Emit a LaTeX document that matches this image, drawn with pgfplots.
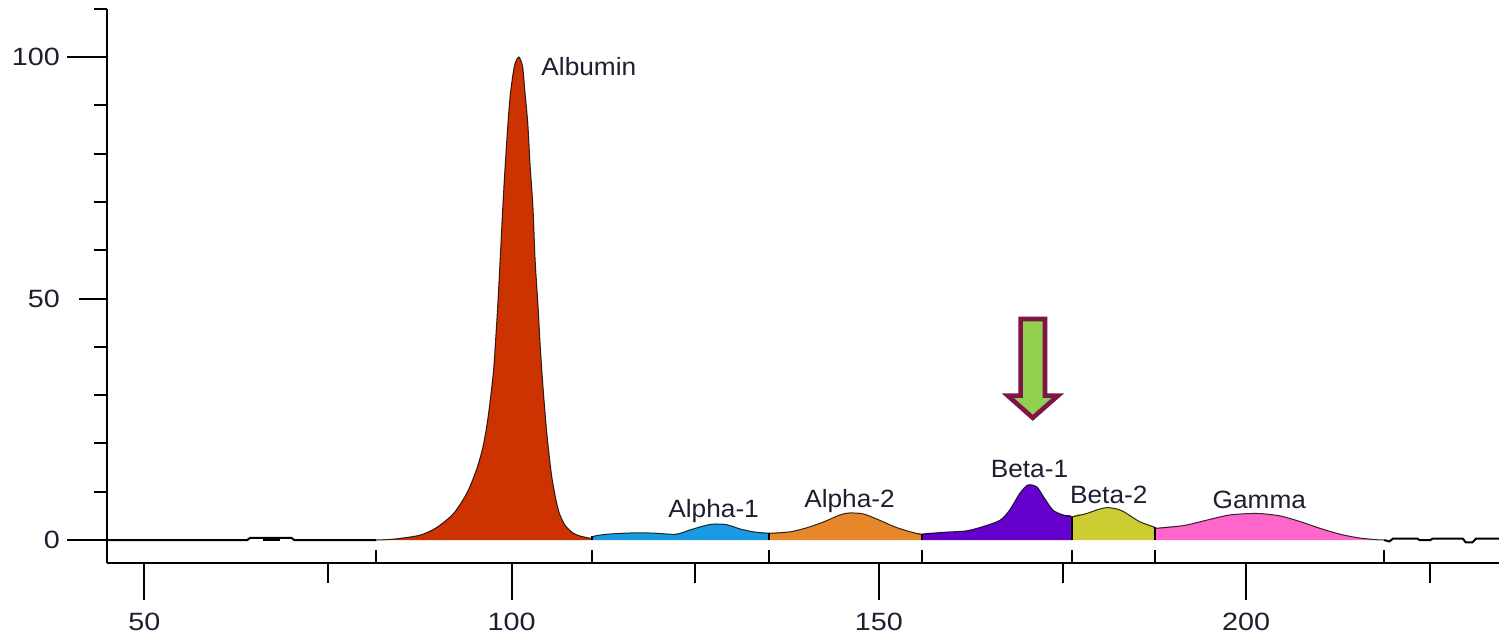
\documentclass[border=0pt]{standalone}
\usepackage{fontspec}
\setmainfont{Liberation Sans}[FakeStretch=1.05]
\newfontfamily\tickfont{Liberation Sans}[FakeStretch=1.15]
\usepackage{pgfplots}
\pgfplotsset{compat=1.18}

\definecolor{albumin}{HTML}{CC3300}
\definecolor{alphaone}{HTML}{1A9AE2}
\definecolor{alphatwo}{HTML}{E8872A}
\definecolor{betaone}{HTML}{6600CC}
\definecolor{betatwo}{HTML}{CCCC33}
\definecolor{gammacol}{HTML}{FF66CC}
\definecolor{arrowfill}{HTML}{92D050}
\definecolor{arrowedge}{HTML}{7F1448}
\definecolor{ink}{HTML}{1E1E30}

\tikzset{peaklabel/.style={font=\fontsize{12.5}{15}\selectfont, text=ink, anchor=base, inner sep=0pt}}

\begin{document}
\begin{tikzpicture}
\pgfplotsset{
  base/.style={
    scale only axis, width=696pt, height=277.15pt,
    xmin=44.91, xmax=234.43, ymin=-4.76, ymax=110,
    axis line style={-, line width=1pt, black},
    every tick/.style={black, line width=1pt},
    every non boxed x axis/.append style={xtick align=outside, x axis line style={-}},
    every non boxed y axis/.append style={ytick align=outside, y axis line style={-}},
    tick align=outside,
    ticklabel style={font=\tickfont\fontsize{12.5}{15}\selectfont, text=ink},
    xticklabel style={yshift=-3pt},
    /pgf/number format/assume math mode=true,
  },
  trace/.style={smooth, tension=0.45},
}
% horizontal axis with its ticks and the fraction boundary marks
\begin{axis}[base, axis x line=bottom, axis y line=none,
  xtick={50,100,150,200}, minor xtick={75,125,175,225},
  major tick length=18.5pt, minor tick length=10pt, ytick=\empty]
  \addplot[black, line width=1pt] coordinates {(81.6,-2.07) (81.6,-4.76)};
  \addplot[black, line width=1pt] coordinates {(111.0,-2.07) (111.0,-4.76)};
  \addplot[black, line width=1pt] coordinates {(135.1,-2.07) (135.1,-4.76)};
  \addplot[black, line width=1pt] coordinates {(155.9,-2.07) (155.9,-4.76)};
  \addplot[black, line width=1pt] coordinates {(176.3,-2.07) (176.3,-4.76)};
  \addplot[black, line width=1pt] coordinates {(187.6,-2.07) (187.6,-4.76)};
  \addplot[black, line width=1pt] coordinates {(218.8,-2.07) (218.8,-4.76)};
\end{axis}
% the shorter tick at 50 on the vertical axis
\begin{axis}[base, axis y line=left, axis x line=none,
  ytick={50}, major tick length=14pt, yticklabel style={xshift=-6pt}, xtick=\empty]
\end{axis}
% vertical axis and the electrophoresis trace
\begin{axis}[base, axis y line=left, axis x line=none,
  ytick={0,100}, minor ytick={10,20,30,40,60,70,80,90,110},
  major tick length=20pt, minor tick length=6.5pt, xtick=\empty]
  \coordinate (SW) at (rel axis cs:0,0);
  \coordinate (NE) at (rel axis cs:1,1);
  % Albumin
  \addplot[fill=albumin, draw=none, trace] coordinates {
    (81.6,0) (84,0.2) (87.5,1.0) (89.8,2.6) (92.1,5.5) (93.9,9.7) (95.2,14.5)
    (96.1,19.3) (96.8,25.5) (97.5,34.5) (97.8,41) (98.1,48.3)
    (98.4,57) (98.8,69.0) (99.1,77) (99.5,86.3) (99.8,92) (100.2,96.6) (100.5,98.8)
    (101.0,100) (101.5,98) (101.8,93) (102.2,86.3) (102.5,78) (102.9,69) (103.2,58)
    (103.6,48.3) (103.9,40) (104.3,31.1) (104.8,22) (105.4,13.8) (106,8.6) (106.5,5.5)
    (107,3.8) (107.4,2.8) (108.4,1.4) (109.4,0.8) (110.6,0.4) (111.0,0.3) (111.0,0)} -- cycle;
  % Alpha-1
  \addplot[fill=alphaone, draw=none, trace] coordinates {
    (111.0,0) (111.0,0.3) (111.2,0.8) (113,1.2) (115.2,1.4) (117.5,1.5) (119.7,1.4)
    (122.4,1.2) (124.3,2.1) (126.1,2.9) (127.4,3.3) (129.2,3.2) (131.1,2.3) (132.9,1.7)
    (135.1,1.4) (135.1,0)} -- cycle;
  % Alpha-2
  \addplot[fill=alphatwo, draw=none, trace] coordinates {
    (135.1,0) (135.1,1.4) (137.9,1.7) (140.1,2.5) (142.4,3.7) (144.7,5.2) (146.0,5.6)
    (147.9,5.4) (150.1,4.1) (152.2,2.7) (154.3,1.7) (155.9,1.2) (155.9,0)} -- cycle;
  % Beta-1
  \addplot[fill=betaone, draw=none, trace] coordinates {
    (155.9,0) (155.9,1.3) (158.8,1.6) (161.9,1.9) (164.2,2.8) (166.5,4.1) (167.8,6.2)
    (169.2,9.7) (170.3,11.4) (171.5,11.0) (172.4,9.0) (173.7,6.2) (175.1,5.2)
    (176.3,4.8) (176.3,0)} -- cycle;
  % Beta-2
  \addplot[fill=betatwo, draw=none, trace] coordinates {
    (176.3,0) (176.3,4.8) (178.3,5.5) (179.8,6.3) (181.0,6.7) (182.2,6.5) (183.3,5.9)
    (185.5,3.8) (187.6,2.6) (187.6,0)} -- cycle;
  % Gamma
  \addplot[fill=gammacol, draw=none, trace] coordinates {
    (187.6,0) (187.6,2.4) (191.5,3.0) (194.6,4.1) (197.8,5.2) (201.5,5.5) (204.6,5.0)
    (207.4,3.8) (210.1,2.4) (212.8,1.2) (215.1,0.5) (217.4,0.1) (218.8,0)} -- cycle;
  % densitometer trace over the fractions
  \addplot[black, line width=0.5pt, opacity=0.8, trace] coordinates {
    (81.6,0) (84,0.2) (87.5,1.0) (89.8,2.6) (92.1,5.5) (93.9,9.7) (95.2,14.5)
    (96.1,19.3) (96.8,25.5) (97.5,34.5) (97.8,41) (98.1,48.3)
    (98.4,57) (98.8,69.0) (99.1,77) (99.5,86.3) (99.8,92) (100.2,96.6) (100.5,98.8)
    (101.0,100) (101.5,98) (101.8,93) (102.2,86.3) (102.5,78) (102.9,69) (103.2,58)
    (103.6,48.3) (103.9,40) (104.3,31.1) (104.8,22) (105.4,13.8) (106,8.6) (106.5,5.5)
    (107,3.8) (107.4,2.8) (108.4,1.4) (109.4,0.8) (110.6,0.4) (111.0,0.3)
    (111.2,0.8) (113,1.2) (115.2,1.4) (117.5,1.5) (119.7,1.4)
    (122.4,1.2) (124.3,2.1) (126.1,2.9) (127.4,3.3) (129.2,3.2) (131.1,2.3) (132.9,1.7)
    (135.1,1.4) (137.9,1.7) (140.1,2.5) (142.4,3.7) (144.7,5.2) (146.0,5.6)
    (147.9,5.4) (150.1,4.1) (152.2,2.7) (154.3,1.7) (155.9,1.2)
    (158.8,1.6) (161.9,1.9) (164.2,2.8) (166.5,4.1) (167.8,6.2)
    (169.2,9.7) (170.3,11.4) (171.5,11.0) (172.4,9.0) (173.7,6.2) (175.1,5.2)
    (176.3,4.8) (178.3,5.5) (179.8,6.3) (181.0,6.7) (182.2,6.5) (183.3,5.9)
    (185.5,3.8) (187.6,2.6) (187.6,2.4) (191.5,3.0) (194.6,4.1) (197.8,5.2) (201.5,5.5) (204.6,5.0)
    (207.4,3.8) (210.1,2.4) (212.8,1.2) (215.1,0.5) (217.4,0.1) (218.8,0)};
  % baseline trace outside the fractions
  \addplot[black, line width=1pt] coordinates {
    (44.91,0) (64.0,0) (64.4,0.45) (70.0,0.45) (70.4,0) (81.6,0)};
  \addplot[black, line width=2pt] coordinates {(66.1,0.25) (68.5,0.25)};
  \addplot[black, line width=1pt] coordinates {
    (218.8,0) (219.5,-0.3) (220.0,0.3) (223.3,0.3) (223.6,0) (225.1,0) (225.4,0.3)
    (229.5,0.3) (229.9,-0.5) (230.8,-0.5) (231.3,0.3) (234.43,0.3)};
  % fraction dividers
  \addplot[black, line width=1pt] coordinates {(111.0,0) (111.0,0.8)};
  \addplot[black, line width=1pt] coordinates {(135.1,0) (135.1,1.4)};
  \addplot[black, line width=1pt] coordinates {(155.9,0) (155.9,1.3)};
  \addplot[black, line width=1pt] coordinates {(176.3,0) (176.3,4.8)};
  \addplot[black, line width=1pt] coordinates {(187.6,0) (187.6,2.6)};
  % fraction names
  \node[peaklabel, anchor=base west] at (axis cs:104.0,96.1) {Albumin};
  \node[peaklabel] at (axis cs:127.5,4.7) {Alpha-1};
  \node[peaklabel] at (axis cs:146.0,6.8) {Alpha-2};
  \node[peaklabel] at (axis cs:170.5,13.0) {Beta-1};
  \node[peaklabel] at (axis cs:181.3,7.6) {Beta-2};
  \node[peaklabel] at (axis cs:201.8,6.6) {Gamma};
  % arrow pointing at the Beta-1 band
  \draw[line width=2.3pt, draw=arrowedge, fill=arrowfill, line join=miter]
    (axis cs:169.29,45.76) -- (axis cs:172.61,45.76) -- (axis cs:172.61,29.9)
    -- (axis cs:174.39,29.9) -- (axis cs:170.95,25.3) -- (axis cs:167.54,29.9)
    -- (axis cs:169.29,29.9) -- cycle;
\end{axis}
\pgfresetboundingbox
\path[use as bounding box] ([shift={(-53.5pt,-35.35pt)}]SW) rectangle ([shift={(0pt,4.35pt)}]NE);
\end{tikzpicture}
\end{document}
